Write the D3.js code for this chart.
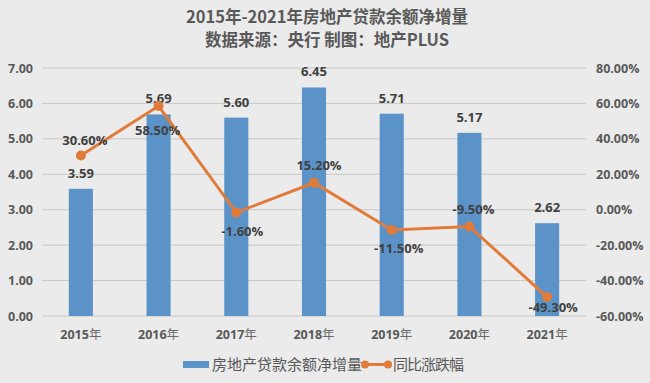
<!DOCTYPE html>
<html><head><meta charset="utf-8">
<script src="https://cdn.jsdelivr.net/npm/d3@7"></script>
<style>body{margin:0;background:#ebebeb;}svg{display:block;}</style>
</head><body>
<svg id="c" width="650" height="383"></svg>
<script>
const categories = ["2015年","2016年","2017年","2018年","2019年","2020年","2021年"];
const loanIncrease = [3.59,5.69,5.60,6.45,5.71,5.17,2.62];
const yoyChange = [30.6,58.5,-1.6,15.2,-11.5,-9.5,-49.3];
const leftTicks = [0,1,2,3,4,5,6,7];
const rightTicks = [-60,-40,-20,0,20,40,60,80];
const titleLines = ["2015年-2021年房地产贷款余额净增量","数据来源：央行 制图：地产PLUS"];
const seriesNames = ["房地产贷款余额净增量","同比涨跌幅"];
// label placement for line labels: dx, dy (baseline) relative to point
const lineLabelPos = [[4,-10.5],[-1,28.5],[6,23.5],[5,-12.5],[7,22.5],[4,-12.5],[6,14.5]];

const fmt2 = d => d3.format(".2f")(d).replace("\u2212","-");

const svg = d3.select("#c");
svg.append("rect").attr("width",650).attr("height",383).attr("fill","#ebebeb");

const x = d3.scaleBand().domain(categories).range([42,586]).paddingInner(0.69).paddingOuter(0.345);
const yL = d3.scaleLinear().domain([0,7]).range([316,68]);
const yR = d3.scaleLinear().domain([-60,80]).range([316,68]);
const cx = d => x(d)+x.bandwidth()/2;

// title
svg.selectAll(".title").data(titleLines).join("text")
  .attr("x",327).attr("y",(d,i)=>23+i*23).attr("text-anchor","middle")
  .attr("font-family","'Noto Sans CJK SC'").attr("font-weight","bold").attr("font-size",16.5)
  .attr("fill","#595959").text(d=>d);

// gridlines
svg.append("g").selectAll("line").data(leftTicks).join("line")
  .attr("x1",42).attr("x2",586).attr("y1",d=>yL(d)).attr("y2",d=>yL(d))
  .attr("stroke","#c8c8c8").attr("stroke-width",1);

// left axis labels
svg.append("g").selectAll("text").data(leftTicks).join("text")
  .attr("x",33).attr("y",d=>yL(d)+4.5).attr("text-anchor","end")
  .attr("font-family","'Open Sans',sans-serif").attr("font-weight","bold").attr("font-size",12.5)
  .attr("fill","#595959").text(d=>fmt2(d));

// right axis labels
svg.append("g").selectAll("text").data(rightTicks).join("text")
  .attr("x",596).attr("y",d=>yR(d)+4.5).attr("text-anchor","start")
  .attr("font-family","'Open Sans',sans-serif").attr("font-weight","bold").attr("font-size",12.5)
  .attr("fill","#595959").text(d=>fmt2(d)+"%");

// x labels: bold digits, light 年
const xl = svg.append("g").selectAll("text").data(categories).join("text")
  .attr("x",d=>cx(d)).attr("y",339).attr("text-anchor","middle")
  .attr("font-size",12.5).attr("fill","#595959");
xl.append("tspan").attr("font-family","'Open Sans',sans-serif").attr("font-weight","bold").text(d=>d.replace("年",""));
xl.append("tspan").attr("font-family","'Noto Sans CJK SC'").attr("font-weight","normal").attr("fill","#6a6a6a").text("年");

// bars
svg.append("g").selectAll("rect").data(loanIncrease).join("rect")
  .attr("x",(d,i)=>x(categories[i])).attr("width",x.bandwidth())
  .attr("y",d=>yL(d)).attr("height",d=>yL(0)-yL(d)).attr("fill","#5b93c9");

// bar labels
svg.append("g").selectAll("text").data(loanIncrease).join("text")
  .attr("x",(d,i)=>cx(categories[i])).attr("y",d=>yL(d)-11).attr("text-anchor","middle")
  .attr("font-family","'Open Sans',sans-serif").attr("font-weight","bold").attr("font-size",13)
  .attr("fill","#404040").text(d=>fmt2(d));

// line
const line = d3.line().x((d,i)=>cx(categories[i])).y(d=>yR(d));
svg.append("path").datum(yoyChange).attr("d",line).attr("fill","none")
  .attr("stroke","#e07b39").attr("stroke-width",3);
svg.append("g").selectAll("circle").data(yoyChange).join("circle")
  .attr("cx",(d,i)=>cx(categories[i])).attr("cy",d=>yR(d)).attr("r",5).attr("fill","#e07b39");

// line labels
svg.append("g").selectAll("text").data(yoyChange).join("text")
  .attr("x",(d,i)=>cx(categories[i])+lineLabelPos[i][0]).attr("y",(d,i)=>yR(d)+lineLabelPos[i][1])
  .attr("text-anchor","middle")
  .attr("font-family","'Open Sans',sans-serif").attr("font-weight","bold").attr("font-size",13)
  .attr("fill","#404040").text(d=>fmt2(d)+"%");

// legend
const lg = svg.append("g");
lg.append("rect").attr("x",183).attr("y",361).attr("width",26).attr("height",7).attr("fill","#5b93c9");
lg.append("text").attr("x",212).attr("y",370).attr("font-family","'Noto Sans CJK SC',serif")
  .attr("font-size",15).attr("fill","#595959").attr("textLength",150).text(seriesNames[0]);
lg.append("line").attr("x1",365).attr("x2",388).attr("y1",364.5).attr("y2",364.5).attr("stroke","#e07b39").attr("stroke-width",3);
lg.selectAll("circle").data([365,388]).join("circle").attr("cx",d=>d).attr("cy",364.5).attr("r",4).attr("fill","#e07b39");
lg.append("text").attr("x",393).attr("y",370).attr("font-family","'Noto Sans CJK SC',serif")
  .attr("font-size",15).attr("fill","#595959").attr("textLength",71).text(seriesNames[1]);
</script>
</body></html>
